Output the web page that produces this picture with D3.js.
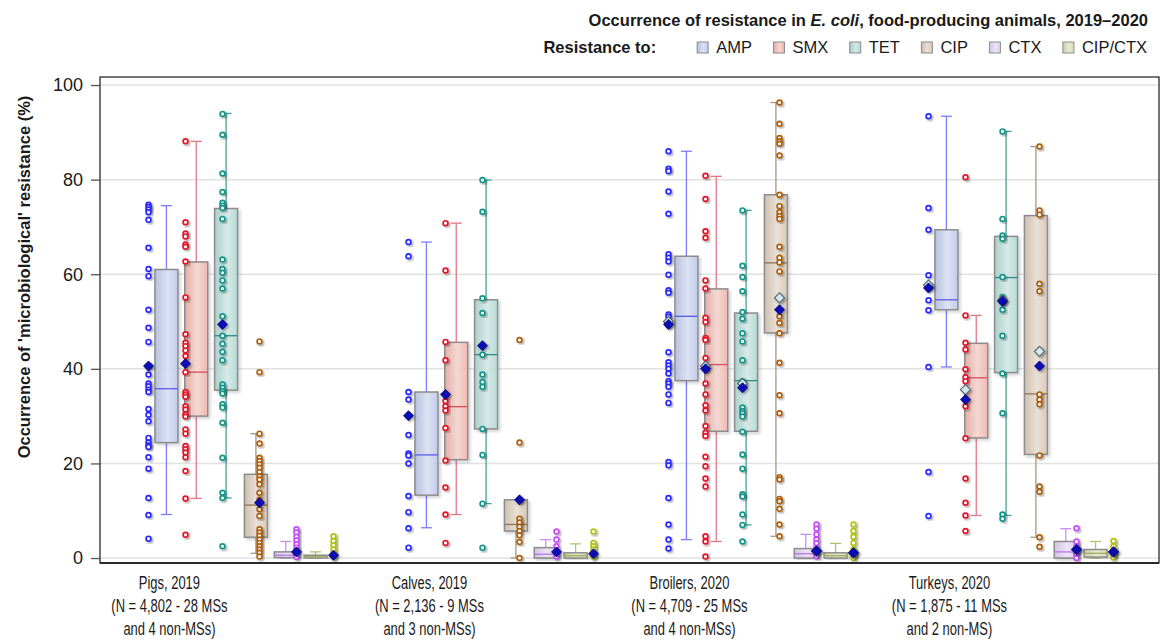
<!DOCTYPE html>
<html><head><meta charset="utf-8">
<script src="https://cdn.jsdelivr.net/npm/d3@7/dist/d3.min.js"></script>
<style>
body{margin:0;background:#fff;}
text{font-family:"Liberation Sans",Arial,sans-serif;fill:#1a1a1a;}
</style></head>
<body><svg id="c" width="1162" height="641"></svg>
<script>
// ---------- data ----------
const categories = ["Pigs, 2019", "Calves, 2019", "Broilers, 2020", "Turkeys, 2020"];
const categoryNotes = [
  ["(N = 4,802 - 28 MSs", "and 4 non-MSs)"],
  ["(N = 2,136 - 9 MSs", "and 3 non-MSs)"],
  ["(N = 4,709 - 25 MSs", "and 4 non-MSs)"],
  ["(N = 1,875 - 11 MSs", "and 2 non-MS)"]
];
const antimicrobials = ["AMP", "SMX", "TET", "CIP", "CTX", "CIP/CTX"];
const yTicks = [0, 20, 40, 60, 80, 100];

// individual country values, per category (Pigs, Calves, Broilers, Turkeys)
const pointsAMP = [
  [74.7,74.2,73.7,73.1,71.5,65.6,61.1,59.6,52.5,48.7,45.7,40.6,38.8,36.9,36.3,35.6,35.1,31.5,30.3,28.9,25.4,24.4,23.8,23.5,21.3,18.9,12.7,9.1,4.1],
  [66.8,63.8,35.1,33.5,26.0,22.1,21.7,20.0,13.1,9.7,6.3,2.2],
  [86.0,82.3,81.8,77.5,72.8,64.2,63.5,62.7,59.9,56.6,56.1,51.5,51.0,49.4,43.5,41.4,40.7,40.0,39.0,37.4,36.9,36.2,34.6,32.8,20.3,19.6,12.7,7.1,3.9,2.0],
  [93.4,74.0,69.4,59.8,57.5,54.5,52.4,40.4,18.2,8.9]
];
const pointsSMX = [
  [88.1,71.0,68.6,68.0,66.3,65.8,62.7,55.1,47.3,45.5,44.8,43.9,42.7,39.3,35.1,34.6,34.1,32.1,31.4,30.4,29.9,27.2,26.3,23.7,23.0,22.3,21.3,18.4,12.6,4.9],
  [70.8,60.8,45.7,41.8,34.6,33.2,32.1,31.2,27.5,20.6,14.9,9.2,3.2],
  [80.8,75.9,69.1,67.7,58.7,57.0,50.8,49.9,46.5,46.1,42.3,40.0,36.9,34.6,32.3,31.2,27.9,26.5,25.8,21.4,19.4,16.8,15.1,4.6,3.5,0.3],
  [80.5,51.3,45.5,44.1,39.9,38.2,37.4,33.5,32.1,25.3,16.8,11.7,9.0,5.7]
];
const pointsTET = [
  [93.9,89.5,81.3,77.4,75.1,74.5,74.0,71.7,63.1,61.1,60.3,58.7,57.0,51.1,47.0,45.3,43.6,41.8,36.7,36.0,35.3,34.8,32.5,31.8,28.6,21.2,13.8,12.7,2.5],
  [79.9,73.2,54.9,51.8,43.0,38.8,37.2,36.2,27.3,21.8,11.5,2.2],
  [73.5,61.8,59.4,56.4,52.0,50.6,47.5,45.8,41.8,37.4,36.9,31.8,31.1,30.6,29.9,26.7,21.9,18.9,13.5,13.0,9.2,7.0,3.5],
  [90.2,71.7,68.2,67.5,59.4,55.2,54.2,52.5,47.0,39.0,30.6,9.2,8.3]
];
const pointsCIP = [
  [45.8,39.3,26.3,24.2,21.2,20.5,19.8,19.1,18.2,17.3,16.6,15.6,13.8,12.3,10.3,8.9,6.1,5.4,4.7,3.9,3.2,2.5,1.8,1.1,0.3],
  [46.1,24.4,12.3,8.3,7.5,6.6,5.7,4.8,3.4,0],
  [96.3,91.8,88.8,88.1,87.6,85.1,76.8,74.4,73.1,72.3,71.7,65.8,63.5,62.5,60.6,51.1,49.7,47.5,41.3,34.4,30.6,17.1,16.6,12.5,12.0,10.4,7.1,4.6],
  [87.0,73.5,72.6,58.0,56.4,34.6,33.5,32.5,21.7,15.1,14.0,4.4,2.4]
];
const pointsCTX = [
  [6.1,5.4,4.5,3.7,2.9,2.2,1.5,0.8,0.2],
  [5.6,3.9,2.5,1.1,0.3],
  [7.1,6.2,5.0,3.9,3.1,2.2,1.3,0.4],
  [6.3,3.5,2.5,1.6,0.8,0]
];
const pointsCIPCTX = [
  [4.6,3.6,2.7,1.8,1.0,0.3],
  [5.6,3.2,2.5,1.8,0.8,0.3],
  [7.1,5.7,4.5,3.2,1.8,0.8,0],
  [3.6,2.5,1.7,0.8,0.1]
];

// box statistics per category: [lower whisker, Q1, median, Q3, upper whisker]
const boxAMP    = [[9.2,24.4,35.8,61.0,74.5],[6.4,13.3,21.8,35.1,66.8],[3.9,37.5,51.1,63.8,86.0],[40.4,52.5,54.6,69.4,93.4]];
const boxSMX    = [[12.6,30.0,39.3,62.6,88.1],[9.2,20.8,32.0,45.6,70.8],[3.5,26.8,40.9,56.9,80.7],[9.0,25.4,38.1,45.4,51.3]];
const boxTET    = [[12.7,35.5,47.0,73.9,94.0],[11.5,27.3,43.0,54.6,79.9],[7.0,26.8,37.5,51.8,73.5],[9.0,39.2,59.3,68.0,90.2]];
const boxCIP    = [[1.0,4.4,11.2,17.7,26.3],[0,5.7,7.1,12.3,12.3],[4.6,47.6,62.4,76.8,96.3],[4.4,21.9,34.7,72.4,87.0]];
const boxCTX    = [[0,0.1,0.6,1.3,3.5],[0,0,0.8,2.2,3.9],[0,0,0.9,2.0,5.0],[0,0,1.3,3.5,6.2]];
const boxCIPCTX = [[0,0,0.3,0.6,1.3],[0,0,0.5,1.1,3.0],[0,0,0.5,1.1,3.1],[0,0.2,1.0,1.8,3.5]];

// means (dark diamond) and second mean (light diamond, 2020 only)
const meanAMP    = [40.6,30.1,49.4,57.1];
const meanSMX    = [41.1,34.6,40.0,33.5];
const meanTET    = [49.4,44.9,36.0,54.3];
const meanCIP    = [11.7,12.3,52.5,40.6];
const meanCTX    = [1.3,1.3,1.5,1.8];
const meanCIPCTX = [0.6,0.9,1.1,1.3];
const mean2AMP    = [null,null,50.0,57.7];
const mean2SMX    = [null,null,40.6,35.6];
const mean2TET    = [null,null,36.9,54.5];
const mean2CIP    = [null,null,55.0,43.7];
const mean2CTX    = [null,null,1.5,1.8];
const mean2CIPCTX = [null,null,1.1,1.3];

const seriesColors = {
  AMP:      {dot:"#2b2bff", line:"#7c7cff", med:"#5a5af0", fill:"#bfcaea"},
  SMX:      {dot:"#e4182c", line:"#e27886", med:"#d4505e", fill:"#eeb6ae"},
  TET:      {dot:"#15968b", line:"#44a39a", med:"#2e8b82", fill:"#b2d9d4"},
  CIP:      {dot:"#ad600c", line:"#ab9580", med:"#8f7457", fill:"#d8c7b5"},
  CTX:      {dot:"#c64ef7", line:"#c88ef2", med:"#b577e6", fill:"#dccdf0"},
  "CIP/CTX":{dot:"#b2c40c", line:"#b3c270", med:"#9fae5c", fill:"#d6dbae"}
};
const pointsBy = {AMP:pointsAMP,SMX:pointsSMX,TET:pointsTET,CIP:pointsCIP,CTX:pointsCTX,"CIP/CTX":pointsCIPCTX};
const boxBy = {AMP:boxAMP,SMX:boxSMX,TET:boxTET,CIP:boxCIP,CTX:boxCTX,"CIP/CTX":boxCIPCTX};
const meanBy = {AMP:meanAMP,SMX:meanSMX,TET:meanTET,CIP:meanCIP,CTX:meanCTX,"CIP/CTX":meanCIPCTX};
const mean2By = {AMP:mean2AMP,SMX:mean2SMX,TET:mean2TET,CIP:mean2CIP,CTX:mean2CTX,"CIP/CTX":mean2CIPCTX};

// ---------- layout ----------
const svg = d3.select("#c");
const L = 100, R = 1159, T = 77, B = 563;
const y = d3.scaleLinear().domain([-1.05, 101.7]).range([B, T]);
const x = d3.scaleBand().domain(categories).range([111, 1151]).paddingInner(0).paddingOuter(0);
const xDot = d3.scaleBand().domain(antimicrobials).range([-111, 111]);
const xBox = d3.scaleBand().domain(antimicrobials).range([-89.5, 89.5]);
const cx = c => x(c) + x.bandwidth() / 2;
const boxW = 23, capW = 11;

const defs = svg.append("defs");
const sh = defs.append("filter").attr("id","sh").attr("x","-50%").attr("y","-50%").attr("width","200%").attr("height","200%");
sh.append("feDropShadow").attr("dx",1.6).attr("dy",1.6).attr("stdDeviation",1.2).attr("flood-color","#000").attr("flood-opacity",0.35);
const shb = defs.append("filter").attr("id","shb").attr("x","-20%").attr("y","-10%").attr("width","150%").attr("height","130%");
shb.append("feDropShadow").attr("dx",2).attr("dy",2).attr("stdDeviation",1.5).attr("flood-color","#000").attr("flood-opacity",0.18);
antimicrobials.forEach((a,i)=>{
  const g = defs.append("linearGradient").attr("id","gr"+i).attr("x1","0").attr("x2","1").attr("y1","0").attr("y2","0");
  const col = d3.color(seriesColors[a].fill);
  g.append("stop").attr("offset","0%").attr("stop-color", col.darker(0.15));
  g.append("stop").attr("offset","55%").attr("stop-color", d3.interpolateRgb(col, "#fff")(0.45));
  g.append("stop").attr("offset","100%").attr("stop-color", col);
});

// grid
svg.append("g").selectAll("line").data(yTicks).join("line")
  .attr("x1",L).attr("x2",R).attr("y1",d=>y(d)).attr("y2",d=>y(d))
  .attr("stroke","#e2e2e2").attr("stroke-width",1.5);

// y axis
const yAxis = svg.append("g").attr("transform",`translate(${L},0)`)
  .call(d3.axisLeft(y).tickValues(yTicks).tickSize(9).tickPadding(8));
yAxis.select(".domain").remove();
yAxis.selectAll("line").attr("stroke","#555").attr("stroke-width",1.3);
yAxis.selectAll("text").attr("font-size",18).attr("fill","#222").style("font-family","'Liberation Sans',Arial,sans-serif");

// title y
svg.append("text").attr("transform","translate(30,277) rotate(-90)").attr("text-anchor","middle")
  .attr("font-size",16.5).attr("font-weight","bold").text("Occurrence of 'microbiological' resistance (%)");

// marks
const gMarks = svg.append("g");
categories.forEach((c,ci)=>{
  antimicrobials.forEach((a,ai)=>{
    const col = seriesColors[a];
    const bx = cx(c) + xBox(a) + xBox.bandwidth()/2;
    const [lo,q1,md,q3,hi] = boxBy[a][ci];
    const g = gMarks.append("g");
    g.append("line").attr("x1",bx).attr("x2",bx).attr("y1",y(q3)).attr("y2",y(hi)).attr("stroke",col.line).attr("stroke-width",1.3);
    g.append("line").attr("x1",bx).attr("x2",bx).attr("y1",y(q1)).attr("y2",y(lo)).attr("stroke",col.line).attr("stroke-width",1.3);
    [lo,hi].forEach(v=>g.append("line").attr("x1",bx-capW/2).attr("x2",bx+capW/2).attr("y1",y(v)).attr("y2",y(v)).attr("stroke",col.line).attr("stroke-width",1.3));
    g.append("rect").attr("x",bx-boxW/2).attr("y",y(q3)).attr("width",boxW).attr("height",Math.max(1,y(q1)-y(q3)))
      .attr("fill",`url(#gr${ai})`).attr("fill-opacity",0.95).attr("stroke","#8c8c8c").attr("stroke-width",1.5).attr("filter","url(#shb)");
    g.append("line").attr("x1",bx-boxW/2).attr("x2",bx+boxW/2).attr("y1",y(md)).attr("y2",y(md)).attr("stroke",col.med).attr("stroke-width",1.3);
  });
});
categories.forEach((c,ci)=>{
  antimicrobials.forEach((a,ai)=>{
    const col = seriesColors[a];
    const dx = cx(c) + xDot(a) + xDot.bandwidth()/2;
    gMarks.append("g").selectAll("circle").data(pointsBy[a][ci]).join("circle")
      .attr("cx",dx).attr("cy",d=>y(d)).attr("r",2.4)
      .attr("fill","#fff").attr("stroke",col.dot).attr("stroke-width",1.7).attr("filter","url(#sh)");
  });
});
const diamond = (px,py,s)=>`M${px},${py-s}L${px+s},${py}L${px},${py+s}L${px-s},${py}Z`;
categories.forEach((c,ci)=>{
  antimicrobials.forEach((a,ai)=>{
    const dx = cx(c) + xDot(a) + xDot.bandwidth()/2;
    const m2 = mean2By[a][ci];
    if (m2 !== null) gMarks.append("path").attr("d",diamond(dx,y(m2),5)).attr("fill","#cfe9ee").attr("stroke","#5a6a70").attr("stroke-width",1.2).attr("filter","url(#sh)");
    gMarks.append("path").attr("d",diamond(dx,y(meanBy[a][ci]),5)).attr("fill","#0a0ab4").attr("stroke","#00007a").attr("stroke-width",0.8).attr("filter","url(#sh)");
  });
});

// frame
svg.append("rect").attr("x",L).attr("y",T).attr("width",R-L).attr("height",B-T).attr("fill","none").attr("stroke","#3a3a3a").attr("stroke-width",1.4);
svg.append("line").attr("x1",L).attr("x2",R).attr("y1",B).attr("y2",B).attr("stroke","#2a2a2a").attr("stroke-width",2);

// category labels (condensed face emulated by horizontal scaling)
categories.forEach((c,ci)=>{
  const lx = cx(c) + xBox("AMP") + xBox.bandwidth()/2 + 3;
  const t = svg.append("text").attr("transform",`translate(${lx},0) scale(0.7,1)`)
    .attr("text-anchor","middle").attr("font-size",18.5).attr("fill","#222");
  [c, ...categoryNotes[ci]].forEach((s,k)=>t.append("tspan").attr("x",0).attr("y",589+k*23).text(s));
});

// title
const title = svg.append("text").attr("x",1148).attr("y",26).attr("text-anchor","end").attr("font-size",16.5).attr("font-weight","bold");
title.append("tspan").text("Occurrence of resistance in ");
title.append("tspan").attr("font-style","italic").text("E. coli");
title.append("tspan").text(", food-producing animals, 2019\u20132020");

// legend
const lg = svg.append("g");
let lxPos = 1147;
const items = antimicrobials.slice().reverse();
const positions = [];
items.forEach(a=>{
  const tmp = lg.append("text").attr("font-size",16.5).text(a);
  const w = tmp.node().getComputedTextLength(); tmp.remove();
  const tx = lxPos - w;
  positions.push({a, tx, sx: tx - 19});
  lxPos = tx - 19 - 21.5;
});
positions.forEach(p=>{
  const ai = antimicrobials.indexOf(p.a);
  lg.append("rect").attr("x",p.sx).attr("y",42).attr("width",11).attr("height",11)
    .attr("fill",`url(#gr${ai})`).attr("stroke","#8c8c8c").attr("stroke-width",1);
  lg.append("text").attr("x",p.tx).attr("y",53).attr("font-size",16.5).text(p.a);
});
const firstSx = d3.min(positions, p=>p.sx);
lg.append("text").attr("x",firstSx-41).attr("y",53).attr("text-anchor","end").attr("font-size",16.5).attr("font-weight","bold").text("Resistance to:");
</script>
</body></html>
